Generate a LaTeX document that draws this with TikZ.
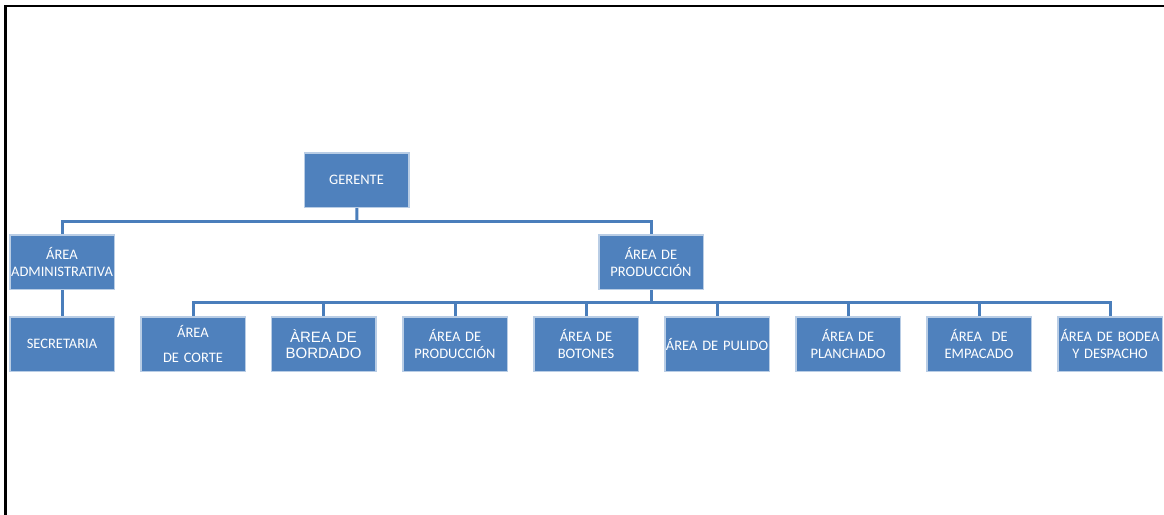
\documentclass[tikz,border=0pt]{standalone}
\usepackage{fontspec}
\setmainfont{Carlito}
\newfontfamily\arialfont{Liberation Sans}
\definecolor{cajaazul}{HTML}{4F81BD}
\definecolor{lineaazul}{HTML}{4A7EBB}
\definecolor{bordeazul}{HTML}{B9CDE5}
\tikzset{
  caja/.style={rectangle, fill=cajaazul, draw=bordeazul, line width=1pt,
    text=white, text width=104pt, inner xsep=0pt, inner ysep=0pt,
    minimum height=54pt, align=center, font=\fontsize{14.5}{16.5}\selectfont},
  enlace/.style={draw=lineaazul, line width=3pt},
}
\begin{document}
\begin{tikzpicture}[x=1pt, y=-1pt]
\useasboundingbox (0,0) rectangle (1164,514);
\draw[line width=2.8pt, line cap=rect] (5.3,514) -- (5.3,6) -- (1164,6);
\node[caja] (P_0_0) at (356.5,180) {GERENTE};
\node[caja] (P_1_0) at (62,262) {ÁREA\\ADMINISTRATIVA};
\node[caja] (P_1_1) at (651,262) {ÁREA DE\\PRODUCCIÓN};
\node[caja] (P_2_0) at (62,344) {SECRETARIA};
\node[caja] (P_2_1) at (193,344) {ÁREA\\[8pt]DE CORTE};
\node[caja, font=\arialfont\fontsize{15}{16}\selectfont] (P_2_2) at (323.5,344) {ÀREA DE\\BORDADO};
\node[caja] (P_2_3) at (455,344) {ÁREA DE\\PRODUCCIÓN};
\node[caja] (P_2_4) at (586,344) {ÁREA DE\\BOTONES};
\node[caja] (P_2_5) at (717,344) {ÁREA DE PULIDO};
\node[caja] (P_2_6) at (848,344) {ÁREA DE\\PLANCHADO};
\node[caja] (P_2_7) at (979,344) {ÁREA\ \ DE\\EMPACADO};
\node[caja] (P_2_8) at (1110,344) {ÁREA DE BODEA\\Y DESPACHO};
\coordinate (B_0) at (357,221);
\coordinate (B_1) at (651,302);
\draw[enlace] (P_0_0) -- (B_0);
\draw[enlace] (B_0) -| (P_1_0);
\draw[enlace] (B_0) -| (P_1_1);
\draw[enlace] (P_1_0) -- (P_2_0);
\draw[enlace] (P_1_1) -- (B_1);
\foreach \i in {1,...,8}
  \draw[enlace] (B_1) -| (P_2_\i);
% cajas encima de las lineas
\foreach \n in {0_0,1_0,1_1,2_0,2_1,2_2,2_3,2_4,2_5,2_6,2_7,2_8}
  \draw[draw=bordeazul, line width=1pt] (P_\n.south west) rectangle (P_\n.north east);
\end{tikzpicture}
\end{document}
